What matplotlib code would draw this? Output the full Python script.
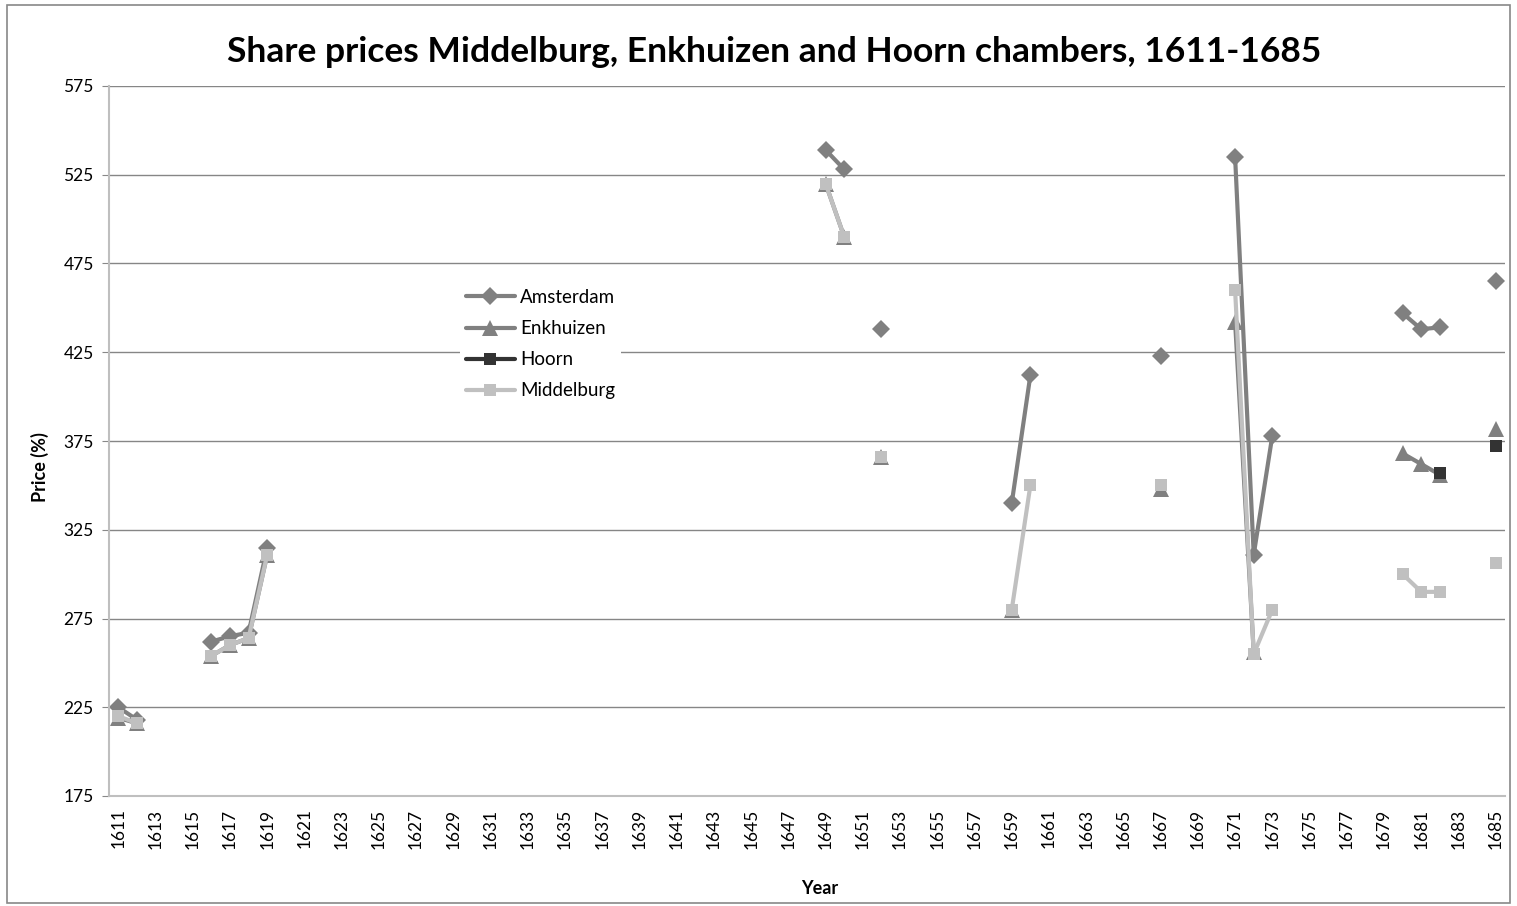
import numpy as np
import matplotlib
matplotlib.use("Agg")
import matplotlib.pyplot as plt
from matplotlib.patches import Rectangle

plt.rcParams['font.family'] = ['Lato', 'DejaVu Sans']

# categories (one per year)
years = list(range(1611, 1686))

ams_years = [1611, 1612, 1616, 1617, 1618, 1619, 1649, 1650, 1652, 1659, 1660,
             1667, 1671, 1672, 1673, 1680, 1681, 1682, 1685]
ams_vals = [225, 218, 262, 265, 267, 315, 539, 528, 438, 340, 412,
            423, 535, 311, 378, 447, 438, 439, 465]

enk_years = [1611, 1612, 1616, 1617, 1618, 1619, 1649, 1650, 1652, 1659,
             1667, 1671, 1672, 1680, 1681, 1682, 1685]
enk_vals = [219, 216, 254, 260, 264, 311, 520, 490, 366, 280,
            348, 442, 256, 368, 362, 356, 382]

hoo_years = [1682, 1685]
hoo_vals = [357, 372]

mid_years = [1611, 1612, 1616, 1617, 1618, 1619, 1649, 1650, 1652, 1659, 1660,
             1667, 1671, 1672, 1673, 1680, 1681, 1682, 1685]
mid_vals = [220, 216, 254, 260, 264, 311, 520, 490, 366, 280, 350,
            350, 460, 255, 280, 300, 290, 290, 306]


def full(yrs, vals):
    arr = np.full(len(years), np.nan)
    for y, v in zip(yrs, vals):
        arr[years.index(y)] = v
    return arr


x = np.arange(len(years))

fig = plt.figure(figsize=(15.17, 9.06), dpi=100)
ax = fig.add_axes([109 / 1517, 1 - 796 / 906, (1505 - 109) / 1517, (796 - 86) / 906])

# outer chart border
fig.patches.append(Rectangle((7 / 1517, 3 / 906), 1503 / 1517, 898 / 906,
                             transform=fig.transFigure, fill=False,
                             edgecolor='#888888', lw=1.2))

series = [
    ("Amsterdam", ams_years, ams_vals, '#808080', 'D', 9),
    ("Enkhuizen", enk_years, enk_vals, '#808080', '^', 11),
    ("Hoorn", hoo_years, hoo_vals, '#333333', 's', 8),
    ("Middelburg", mid_years, mid_vals, '#c0c0c0', 's', 8),
]
for name, yrs, vals, col, mk, ms in series:
    ax.plot(x, full(yrs, vals), color=col, lw=3, marker=mk, markersize=ms,
            markeredgewidth=0, label=name, solid_capstyle='round')

ax.set_xlim(-0.5, len(years) - 0.5)
ax.set_ylim(175, 575)
ax.set_yticks(np.arange(175, 576, 50))
ax.set_xticks(x[::2])
ax.set_xticklabels([str(y) for y in years[::2]], rotation=90, fontsize=12.5)
ax.tick_params(axis='y', labelsize=12.5, length=5, color='#888888', pad=6)
ax.tick_params(axis='x', length=0, pad=9)

ax.grid(axis='y', color='#868686', lw=1)
ax.set_axisbelow(True)
for s in ['top', 'right']:
    ax.spines[s].set_visible(False)
ax.spines['left'].set_color('#bfbfbf')
ax.spines['bottom'].set_color('#bfbfbf')
ax.spines['left'].set_linewidth(1.5)
ax.spines['bottom'].set_linewidth(1.5)

ax.set_xlabel("Year", fontsize=13, fontweight='bold')
ax.xaxis.set_label_coords((820 - 109) / 1396, (796 - 888) / 710)
ax.xaxis.label.set_va('center')
ax.set_ylabel("Price (%)", fontsize=13, fontweight='bold')
ax.yaxis.set_label_coords((40 - 109) / 1396, (796 - 467) / 710)
ax.yaxis.label.set_va('center')
fig.text(0.5105, 0.943, "Share prices Middelburg, Enkhuizen and Hoorn chambers, 1611-1685",
         ha='center', va='center', fontsize=25.5, fontweight='bold')

leg = ax.legend(loc='upper left', bbox_to_anchor=(342 / 1396, 1 - 188 / 710),
                frameon=True, fontsize=13.5, handlelength=2.6, labelspacing=0.75,
                borderpad=0.3, handletextpad=0.3)
leg.get_frame().set_edgecolor('none')
leg.get_frame().set_facecolor('white')
leg.get_frame().set_alpha(1)

fig.savefig("out.png", dpi=100)
